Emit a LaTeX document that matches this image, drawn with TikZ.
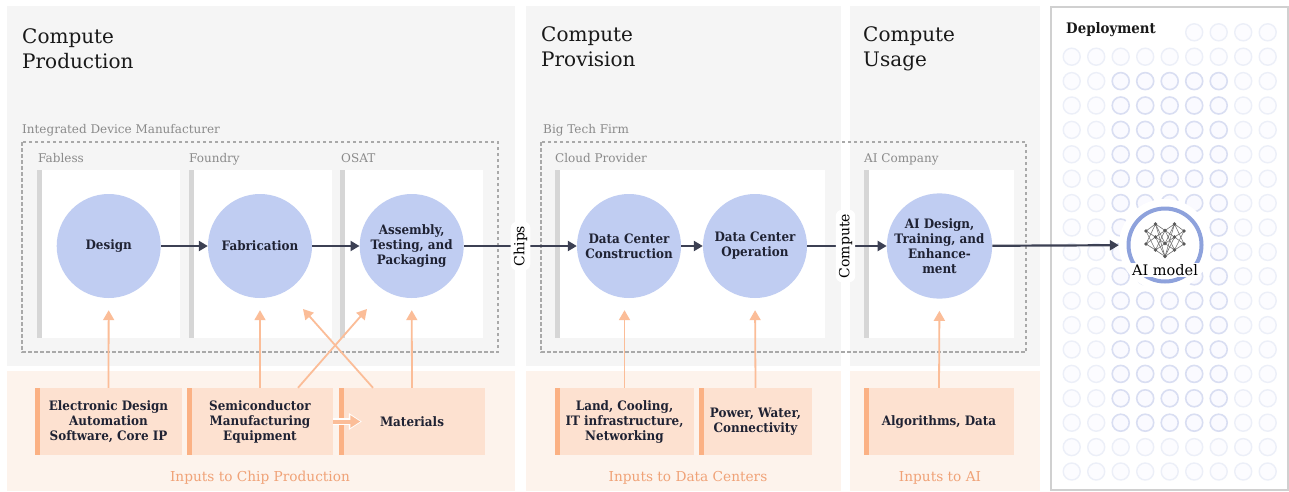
\documentclass[tikz,border=0pt]{standalone}
\usepackage{fontspec}
\setmainfont{DejaVu Serif}[BoldFeatures={FakeStretch=0.92}]
\usetikzlibrary{arrows.meta}
\definecolor{panelg}{HTML}{F5F5F5}
\definecolor{peachl}{HTML}{FDF3EC}
\definecolor{circblue}{HTML}{C0CDF2}
\definecolor{flowdark}{HTML}{3C4053}
\definecolor{peacharrow}{HTML}{FBBD98}
\definecolor{peachbar}{HTML}{FBB184}
\definecolor{peachbox}{HTML}{FDE1D0}
\definecolor{peachtext}{HTML}{F0A277}
\definecolor{graytext}{HTML}{8A8A8A}
\definecolor{dashg}{HTML}{A9A9A9}
\definecolor{barg}{HTML}{D6D6D6}
\definecolor{deplborder}{HTML}{D0D0D0}
\definecolor{gridmedc}{HTML}{D9DEF2}
\definecolor{gridfaintc}{HTML}{ECEFF8}
\definecolor{ringc}{HTML}{8EA2DC}
\definecolor{textdark}{HTML}{1F2233}
\begin{document}
\begin{tikzpicture}[x=1pt,y=-1pt,
  sectitle/.style={anchor=north west, inner sep=0pt, align=left, text=black!90, font=\fontsize{20}{24.5}\selectfont},
  grplbl/.style={anchor=base west, inner sep=0pt, text=graytext, font=\fontsize{12}{14}\selectfont},
  proc/.style={circle, fill=circblue, minimum size=104pt, inner sep=0pt, align=center, text=textdark, font=\bfseries\fontsize{13}{15}\selectfont},
  flow/.style={draw=flowdark, line width=2.2pt, -{Triangle[length=9pt,width=10pt]}},
  feed/.style={draw=peacharrow, line width=1.8pt, -{Triangle[length=10pt,width=11pt]}},
  inbox/.style={fill=peachbox, minimum height=67pt, inner sep=0pt, align=center, text=textdark, font=\bfseries\fontsize{13}{15}\selectfont,
    path picture={\fill[peachbar] (path picture bounding box.north west) rectangle ([xshift=5pt]path picture bounding box.south west);}},
  inlbl/.style={text=peachtext, inner sep=0pt, font=\fontsize{13.7}{16}\selectfont},
  midlbl/.style={fill=white, rounded corners=6pt, inner xsep=4pt, inner ysep=3pt, rotate=90, font=\fontsize{14}{16}\selectfont},
  dashbox/.style={draw=dashg, line width=1.3pt, dash pattern=on 3.5pt off 2.5pt},
  gridmed/.style={draw=gridmedc, fill=blue!2!white, line width=1.6pt},
  gridfaint/.style={draw=gridfaintc, fill=blue!1!white, line width=1.4pt}
]
\useasboundingbox (0,0) rectangle (1289,491);
\fill[white] (0,0) rectangle (1289,491);
% panels
\fill[panelg] (7,6) rectangle (515,366);
\fill[panelg] (526,6) rectangle (841,366);
\fill[panelg] (850,6) rectangle (1040,366);
\fill[peachl] (7,371) rectangle (515,491);
\fill[peachl] (526,371) rectangle (841,491);
\fill[peachl] (850,371) rectangle (1040,491);
% titles
\node[sectitle] (t1) at (22,28.5) {Compute\\Production};
\node[sectitle] (t2) at (541,26.5) {Compute\\Provision};
\node[sectitle] (t3) at (863,26.5) {Compute\\Usage};
% group labels
\node[grplbl] (idm) at (22,133) {Integrated Device Manufacturer};
\node[grplbl] (btf) at (543,133) {Big Tech Firm};
\node[grplbl] (fabless) at (38,162) {Fabless};
\node[grplbl] (foundry) at (189,162) {Foundry};
\node[grplbl] (osat) at (341,162) {OSAT};
\node[grplbl] (cloud) at (555,162) {Cloud Provider};
\node[grplbl] (aico) at (864,162) {AI Company};
% dashed boxes
\draw[dashbox] (22,142) rectangle (498,352);
\draw[dashbox] (541,142) rectangle (1026,352);
% white boxes
\foreach \a/\b in {37/180, 189/332, 340/483, 555/825, 864/1014} {
  \fill[white] (\a,170) rectangle (\b,338);
  \fill[barg] (\a,170) rectangle (\a+5,338);
}
% deployment panel
\draw[draw=deplborder, line width=1.5pt, fill=white] (1051,7) rectangle (1288,490);
\foreach \i in {0,...,8} {
  \foreach \j in {0,...,18} {
    \pgfmathsetmacro{\cx}{1071.7+24.5*\i}
    \pgfmathsetmacro{\cy}{32.3+24.4*\j}
    \pgfmathtruncatemacro{\skip}{(\j==0)&&(\i<5)}
    \pgfmathtruncatemacro{\med}{(\i>=2)&&(\i<=6)&&(\j>=2)&&(\j<=16)}
    \ifnum\skip=0
      \ifnum\med=1
        \draw[gridmed] (\cx,\cy) circle (8.5);
      \else
        \draw[gridfaint] (\cx,\cy) circle (8.5);
      \fi
    \fi
  }
}
\node[anchor=base west, inner sep=0pt, text=black!90, font=\bfseries\fontsize{14.5}{16}\selectfont] (dep) at (1066,33.5) {Deployment};
% AI model
\node[circle, fill=white, minimum size=92pt, inner sep=0pt] (model) at (1165,245) {};
\draw[draw=ringc, line width=4pt] (model.center) circle (36.5);
\foreach \xa/\ya/\xb/\yb in {
 1146/231/1155.5/224, 1146/231/1155.5/237, 1146/231/1155.5/250,
 1146/244/1155.5/224, 1146/244/1155.5/237, 1146/244/1155.5/250,
 1155.5/224/1165/230.5, 1155.5/224/1165/243.5, 1155.5/224/1165/256.5,
 1155.5/237/1165/230.5, 1155.5/237/1165/243.5, 1155.5/237/1165/256.5,
 1155.5/250/1165/230.5, 1155.5/250/1165/243.5, 1155.5/250/1165/256.5,
 1165/230.5/1174.5/224, 1165/230.5/1174.5/237, 1165/230.5/1174.5/250,
 1165/243.5/1174.5/224, 1165/243.5/1174.5/237, 1165/243.5/1174.5/250,
 1165/256.5/1174.5/224, 1165/256.5/1174.5/237, 1165/256.5/1174.5/250,
 1174.5/224/1184/231, 1174.5/224/1184/244,
 1174.5/237/1184/231, 1174.5/237/1184/244,
 1174.5/250/1184/231, 1174.5/250/1184/244} {
  \draw[black!55, line width=0.6pt] (\xa,\ya) -- (\xb,\yb);
}
\foreach \px/\py in {1146/231, 1146/244, 1155.5/224, 1155.5/237, 1155.5/250, 1165/230.5, 1165/243.5, 1165/256.5, 1174.5/224, 1174.5/237, 1174.5/250, 1184/231, 1184/244} {
  \fill[black!65] (\px,\py) circle (1.9);
}
\node[fill=white, inner xsep=2pt, inner ysep=1.5pt, font=\fontsize{14.5}{16}\selectfont] (mlabel) at (1165,270) {AI model};
% process circles
\node[proc] (design) at (108.7,246) {Design};
\node[proc] (fab) at (260,246) {Fabrication};
\node[proc] (asm) at (411.7,246) {Assembly,\\Testing, and\\Packaging};
\node[proc] (dcc) at (629,246) {Data Center\\Construction};
\node[proc] (dco) at (755,246) {Data Center\\Operation};
\node[proc] (aid) at (939.5,246) {AI Design,\\Training, and\\Enhance-\\ment};
% flow arrows
\draw[flow] (design) -- (fab);
\draw[flow] (fab) -- (asm);
\draw[flow] (asm) -- (dcc);
\draw[flow] (dcc) -- (dco);
\draw[flow] (dco) -- (aid);
\draw[flow] (aid) -- (model);
\node[midlbl] (chips) at (520.5,246) {Chips};
\node[midlbl] (compute) at (845.5,246) {Compute};
% inputs
\node[inbox, minimum width=147pt] (eda) at (108.5,421.5) {Electronic Design\\Automation\\Software, Core IP};
\node[inbox, minimum width=146pt] (sme) at (260,421.5) {Semiconductor\\Manufacturing\\Equipment};
\node[inbox, minimum width=146pt] (mat) at (412,421.5) {Materials};
\node[inbox, minimum width=139pt] (land) at (624.5,421.5) {Land, Cooling,\\IT infrastructure,\\Networking};
\node[inbox, minimum width=113pt] (pow) at (755.5,421.5) {Power, Water,\\Connectivity};
\node[inbox, minimum width=150pt] (alg) at (939,421.5) {Algorithms, Data};
% input arrows
\draw[feed, shorten >=12pt] (eda.north) -- (design.south);
\draw[feed, shorten >=12pt] (sme.north) -- (fab.south);
\draw[feed, shorten >=12pt] (mat.north) -- (asm.south);
\draw[feed, shorten >=12pt] (land.north) -- (land.north |- dcc.south);
\draw[feed, shorten >=12pt] (pow.north) -- (dco.south);
\draw[feed, shorten >=12pt] (alg.north) -- (aid.south);
\coordinate (xa) at (367,309);
\coordinate (xb) at (303,309);
\draw[feed] ([xshift=38pt]sme.north) -- (xa);
\draw[feed] ([xshift=-39pt]mat.north) -- (xb);
\draw[white, line width=7.5pt, -{Triangle[length=13pt,width=16pt]}] (sme.east) -- ([xshift=23pt]mat.west);
\draw[peacharrow, line width=4pt, -{Triangle[length=10pt,width=12pt]}] (sme.east) -- ([xshift=21.5pt]mat.west);
% input labels
\node[inlbl] (l1) at (260,478) {Inputs to Chip Production};
\node[inlbl] (l2) at (688,478) {Inputs to Data Centers};
\node[inlbl] (l3) at (940,478) {Inputs to AI};
\end{tikzpicture}
\end{document}
